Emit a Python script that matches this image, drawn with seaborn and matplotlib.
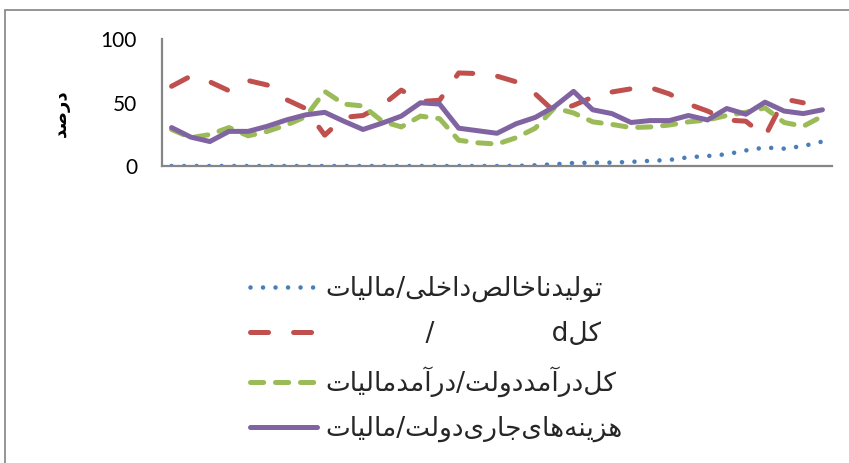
import numpy as np
import pandas as pd
import matplotlib
matplotlib.use("Agg")
import matplotlib.pyplot as plt
from matplotlib.lines import Line2D
import seaborn as sns

# ---- data -------------------------------------------------------------
periods = list(range(35))

tax_to_gdp = [0.2, 0.2, 0.2, 0.2, 0.2, 0.2, 0.2, 0.2, 0.2, 0.2,
              0.2, 0.2, 0.2, 0.2, 0.2, 0.2, 0.2, 0.2, 0.3, 0.8,
              1.6, 2.6, 2.8, 2.9, 3.5, 4.3, 5.0, 7.1, 8.1, 9.5,
              12.5, 14.8, 13.9, 16.0, 19.5]
tax_to_total = [63, 71, 66.5, 59.5, 67.5, 64, 52.5, 45.5, 24.5, 38.5,
                40, 48, 60, 51, 52, 73.5, 73, 71, 66.5, 57,
                43, 48, 54.5, 58.5, 61, 62, 57, 49, 43.5, 36.5,
                35.5, 23.5, 53, 50, np.nan]
tax_to_revenue = [29, 22.5, 25, 30.5, 24, 27.5, 32.5, 39, 59, 49,
                  47.5, 35.5, 31, 39.5, 37.5, 20.5, 18.5, 17.5, 22.5, 30,
                  46, 42, 35, 33, 30.5, 31, 32.5, 35, 36.5, 40,
                  42.5, 46, 34.5, 31.5, 39.5]
tax_to_current_exp = [30.5, 23, 19.5, 27.5, 27.5, 31.5, 36.5, 40.5, 42.5, 35.5,
                      29, 34, 39.5, 50, 49, 30, 28, 26, 33.5, 38.5,
                      47, 59, 44.5, 41.5, 34.5, 36, 36, 40, 36.5, 45.5,
                      41, 50.5, 43.5, 41.5, 44.5]

series_names = [
    "تولیدناخالص\u200cداخلی/مالیات",
    "کلd" + "              " + "/" + "            ",
    "کل\u200cدرآمددولت/درآمدمالیات",
    "هزینه\u200cهای\u200cجاری\u200cدولت/مالیات",
]
y_title = "درصد"
y_ticks = [0, 50, 100]

# ---- Persian text shaping (matplotlib draws glyphs without shaping) ----
_FORMS = {
    "ا": ("\uFE8D", "\uFE8E", None, None),
    "آ": ("\uFE81", "\uFE82", None, None),
    "د": ("\uFEA9", "\uFEAA", None, None),
    "ر": ("\uFEAD", "\uFEAE", None, None),
    "ز": ("\uFEAF", "\uFEB0", None, None),
    "و": ("\uFEED", "\uFEEE", None, None),
    "ت": ("\uFE95", "\uFE96", "\uFE97", "\uFE98"),
    "ج": ("\uFE9D", "\uFE9E", "\uFE9F", "\uFEA0"),
    "خ": ("\uFEA5", "\uFEA6", "\uFEA7", "\uFEA8"),
    "ص": ("\uFEB9", "\uFEBA", "\uFEBB", "\uFEBC"),
    "ل": ("\uFEDD", "\uFEDE", "\uFEDF", "\uFEE0"),
    "م": ("\uFEE1", "\uFEE2", "\uFEE3", "\uFEE4"),
    "ن": ("\uFEE5", "\uFEE6", "\uFEE7", "\uFEE8"),
    "ه": ("\uFEE9", "\uFEEA", "\uFEEB", "\uFEEC"),
    "ی": ("\uFBFC", "\uFBFD", "\uFBFE", "\uFBFF"),
    "ک": ("\uFB8E", "\uFB8F", "\uFB90", "\uFB91"),
}


def shape_rtl(text):
    out = []
    n = len(text)
    for i, c in enumerate(text):
        f = _FORMS.get(c)
        if f is None:
            if c != "\u200c":
                out.append(c)
            continue
        prev = text[i - 1] if i > 0 else None
        nxt = text[i + 1] if i < n - 1 else None
        join_prev = prev in _FORMS and _FORMS[prev][2] is not None
        join_next = f[2] is not None and nxt in _FORMS
        if join_prev and join_next:
            out.append(f[3])
        elif join_prev:
            out.append(f[1])
        elif join_next:
            out.append(f[2])
        else:
            out.append(f[0])
    return "".join(reversed(out))


# ---- style ------------------------------------------------------------
sns.set_theme(style="white")
plt.rcParams["font.family"] = ["Lato", "DejaVu Sans"]
plt.rcParams["lines.scale_dashes"] = False

W, H = 849, 463
fig = plt.figure(figsize=(W / 100, H / 100), dpi=100)
ax = fig.add_axes([162 / W, 1 - 166.3 / H, (832 - 162) / W, 127 / H])

lw = 3.6
styles = [
    dict(color="#4A7EBB", linestyle=(0, (0.01, 9.0)), dash_capstyle="round", linewidth=3.3),
    dict(color="#C0504D", linestyle=(0, (13.0, 18.0)), dash_capstyle="round", linewidth=lw),
    dict(color="#9BBB59", linestyle=(0, (9.5, 8.5)), dash_capstyle="round", linewidth=lw),
    dict(color="#8064A2", linestyle="-", solid_capstyle="round", linewidth=lw),
]
values = [tax_to_gdp, tax_to_total, tax_to_revenue, tax_to_current_exp]

for name, vals, st in zip(series_names, values, styles):
    df = pd.DataFrame({"period": periods, "value": vals}).dropna()
    sns.lineplot(data=df, x="period", y="value", ax=ax, estimator=None,
                 sort=False, legend=False, label=shape_rtl(name),
                 solid_joinstyle="round", dash_joinstyle="round", **st)

ax.set_xlim(-0.5, len(periods) - 0.5)
ax.set_ylim(0, 100)
ax.set_xticks([])
ax.set_yticks(y_ticks)
ax.set_yticklabels([str(t) for t in y_ticks], fontsize=15, color="black")
ax.tick_params(axis="y", length=0, pad=18)
ax.set_xlabel("")
ax.set_ylabel(shape_rtl(y_title), fontsize=13, fontweight="bold",
              family=["DejaVu Sans"], color="black")
ax.yaxis.set_label_coords((70 - 162) / 670, 0.42)

for side in ("top", "right"):
    ax.spines[side].set_visible(False)
for side in ("left", "bottom"):
    ax.spines[side].set_color("#868686")
    ax.spines[side].set_linewidth(1.6)
if ax.get_legend() is not None:
    ax.get_legend().remove()

handles, labels = ax.get_legend_handles_labels()
fig.legend(handles, labels, loc="upper left",
           bbox_to_anchor=(250 / W, 1 - 276 / H),
           frameon=False, borderpad=0, borderaxespad=0,
           prop=dict(family=["DejaVu Sans"], size=19),
           handlelength=2.55, handletextpad=0.3, labelspacing=0.72)

# outer chart frame (top and left edges)
frame_col = "#8c8c8c"
fig.add_artist(Line2D([5 / W, 1.0], [1 - 10 / H, 1 - 10 / H],
                      transform=fig.transFigure, color=frame_col, lw=1.3))
fig.add_artist(Line2D([5 / W, 5 / W], [0.0, 1 - 10 / H],
                      transform=fig.transFigure, color=frame_col, lw=1.3))

fig.savefig("out.png", dpi=100, facecolor="white")
